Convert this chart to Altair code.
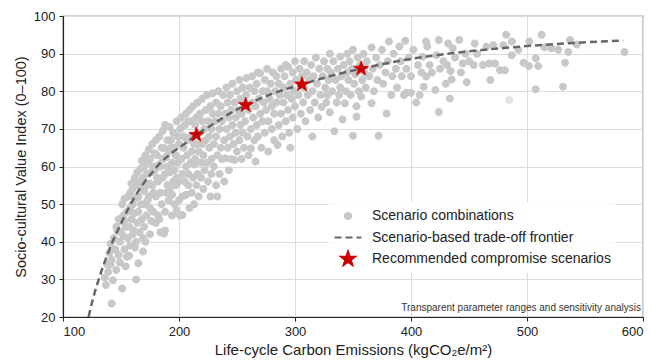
import math
import altair as alt
import pandas as pd

FONT = "Liberation Sans"

SERIES = ["Scenario combinations",
          "Scenario-based trade-off frontier",
          "Recommended compromise scenarios"]

# ---- scenario combinations (emissions, socio-cultural index), read by band ----
band_a = [(136,30.5),(137,28.5),(138,34),(139,32),(140,37),(141,34),(142,23.6),(142,35.2),(143,29.8),(141,39.5),
          (144,41),(145,38),(146,32.5),(147,43),(148,36.5),(148,46),(149,40),(149,34.5),(150,45.5),(151,27.6),(150,42.5),(146,44),
          (151,50),(152,41.5),(152,47),(153,38),(153,51.5),(154,44),(155,48),(155,36),(156,52),(156,41),(154,33.5),(153,45.5)]
band_b = [(157,36.3),(157,44),(158,39),(158,49),(158,53),(159,46),(159,55.5),(160,42),(160,50),(161,43),(161,47.5),(162,51.5),(162,57),(162,38.5),(160,54),
          (163,30),(163,40),(163,55),(164,45),(164,58.5),(165,34.3),(165,48),(165,52),(166,42.5),(166,56),(167,50),(167,59.5),(168,46),(168,54),(168,61.5),
          (169,37.4),(169,41),(169,57),(170,44),(170,50),(170,53.5),(170,60),(171,63),(172,47),(172,55),(172,58),(173,61),(173,51),(174,52),(174,64.5),(171,40)]
band_c = [(175,42),(175,49),(175,55.5),(175,62),(176,58.5),(176,45.5),(177,55),(177,66),(178,48),(178,60),(179,59),(179,63.5),(180,52),(180,45),(180,67),(178,53),
          (181,63),(181,57),(182,56),(182,47),(183,46),(183,60.5),(183,68),(184,60),(184,53),(185,50),(185,65),(186,62),(186,57),(186,69.5),(184,42.5),
          (187,42.2),(187,65),(188,43),(188,48),(188,58),(188,71),(189,53),(189,62.5),(190,55),(190,60),(190,67),(191,51),(191,64),(192,54),(192,70.5),(192,58.5),
          (193,65),(193,67),(194,47),(194,61),(195,56),(195,69),(196,59),(196,65),(196,50),(197,55),(197,63),(198,48.4),(198,57),(198,72),(199,61),(199,68),(194,52.5)]
band_d = [(200,51),(200,56),(200,66),(201,47),(201,70),(202,62),(202,73),(203,52),(203,58),(203,47.1),(204,65),(204,68),(205,56),(205,71),(206,60),(206,74),(206,52.5),
          (207,63),(207,67),(208,55),(208,58),(208,72),(209,49),(209,75),(210,61),(210,68),(211,53),(211,64),(211,72),(212,57),(212,76),(213,50),(213,66),(213,60.5),
          (214,62),(214,71),(215,55),(215,73),(216,58),(216,66),(216,77),(217,52),(217,64),(218,69),(218,74),(219,61),(219,57),(220,66),(220,72),(220,78),
          (221,54),(221,63),(222,59),(222,70),(223,75),(223,67),(224,61),(224,79),(225,56),(225,72),(226,65),(226,68),(227,52),(227,76),(228,62),(228,70),(228,58),(229,74),(229,79.5)]
band_e = [(230,66),(230,60),(231,72),(232,55),(232,68),(232,77),(233,52),(233,63),(234,74),(234,80),(235,58),(235,70),(236,65),(236,76),
          (237,62),(237,72),(238,79),(239,67),(239,56),(240,62.2),(240,74),(241,70),(241,81),(242,65),(242,77),(243,59),(243,73),(244,68),(244,79),(245,62),(245,75),
          (246,71),(246,82),(247,66),(248,61.7),(248,77),(249,73),(249,69),(250,64),(250,80),(251,75),(252,67),(252,83),(253,71),(253,78),(254,62),(254,74),(255,81),(255,69),
          (256,65),(256,77),(257,72),(258,79),(258,83.5),(259,68)]
band_f = [(260,75),(260,63),(261,81),(262,70),(262,64.8),(263,77),(263,84),(264,73),(265,67),(265,80),(266,61.3),
          (266,76),(267,82),(267,71),(268,85),(268,68),(269,78),(270,74),(270,84.8),(271,65),(272,80),(272,72),(273,77),(274,83),(274,69),(275,75),(276,86),(276,80),
          (277,64),(277,72),(278,78),(279,82),(280,70),(280,76),(281,85),(282,74),(282,67),(283,80),(284,84),(284,77),(285,65.7),(286,71),(286,82),(287,79),(288,86),(288,74),
          (289,68),(290,81),(290,77),(291,84),(292,72),(293,79),(294,86.5),(294,75),(295,69),(296,82),(297,78),(298,85),(298,73),(299,80),(300,88),(300,76),(296,65),(292,87)]
band_g = [(301,83),(302,70),(303,79),(304,86),(305,74),(306,84),(307,77),(308,81),(308,88),(309,72),(310,85),(311,79),(312,83),(313,75),(314,87),(315,80),(315,68),
          (316,84),(317,77),(318,89),(319,82),(320,73),(321,86),(322,79),(323,75.8),(324,84),(325,88),(326,81),(327,77),(328,86),(329,83),(330,74.4),(330,90),(328,79),
          (331,85),(332,80),(333,88),(334,69.4),(335,83),(336,77),(337,86),(339,89.2),(339,81),(340,84),(341,72.5),(342,87),(343,76.8),(344,80),(345,90),(345,85),(338,79),
          (346,83),(347,88),(348,79),(349,86),(350,68.2),(350,91),(351,82),(352,84.5),(353,73.2),(354,89),(355,80),(356,87),(357,78.6),(358,83),(359,90),(360,85),(353,76)]
band_h = [(361,81),(362,88),(364,84),(366,76.8),(366,91.6),(367,86),(368,80),(370,89),(371,83),(372,68.2),(373,87),(375,91),(376,82),(378,85),(379,74.1),(383,79),(380,88),(381,93.2),
          (384,84),(385,90),(387,86),(388,81),(390,91.9),(391,88),(392,84),(394,79),(395,93.4),(396,86),(396,79.6),(398,89),(400,79.6),(400,84),(402,91),
          (404.5,77),(407.5,79),(406,87),(409,85),(410,89.2),(411,81.2),(413,93.2),(413,83.9),(414,91.9),(416,87),(418,85),(421,80.3),(422,89.6),(424,74.5),(424,93.6),(425,86),
          (428,88),(430,82),(431,87),(432,92.7),(433.5,78.1),(434,85.4),(435,83.1),(436,91.4),(438,89),(441.6,93.6),(443,85),(444.6,87.4),(447,90),(448,82.4),(450,88)]
band_i = [(455,92.7),(454,87),(457,90),(462,87),(465,91.8),(467.5,87.4),(468.4,83),(471,92.2),(472.4,87.4),(476.7,85.6),(479.6,92.2),(481,85.6),(482,95),
          (486.8,89.6),(487,93.2),(492.5,91),(497,87.6),(501.6,86.7),(502,93.2),(507.5,80.5),(507.5,88.8),(509.6,86.7),(512.6,95),(515,91.7),(521,91.4),
          (527,91),(531,81.2),(532.8,87.6),(535.6,90.4),(537,93.6),(543,92.4),(584,90.4)]
faint_points = [(484.5, 77.7)]

# ---- trade-off frontier ----
frontier_emissions = [122, 126, 131, 137, 143, 149, 156, 162, 168, 175, 181, 195, 208, 215, 230, 244, 257.5, 280, 306, 330, 357, 400, 450, 500, 550, 583]
frontier_index = [20, 25, 30.2, 35.5, 40.2, 44.2, 48.6, 52.0, 54.9, 57.7, 60.0, 63.9, 66.7, 68.4, 71.4, 74.1, 76.3, 79.3, 81.8, 84.0, 86.0, 88.6, 90.6, 92.0, 93.0, 93.5]

# ---- recommended compromise scenarios ----
star_emissions = [215, 257.5, 306, 357]
star_index = [68.4, 76.3, 81.8, 86.0]

x_ticks = [100, 200, 300, 400, 500, 600]
y_ticks = [20, 30, 40, 50, 60, 70, 80, 90, 100]

NOTE = "Transparent parameter ranges and sensitivity analysis"

# ---- frames ----
bands = [band_a, band_b, band_c, band_d, band_e, band_f, band_g, band_h, band_i]
pts = pd.DataFrame([p for b in bands for p in b], columns=["emis", "svi"])
pts["series"] = SERIES[0]
faint = pd.DataFrame(faint_points, columns=["emis", "svi"])
front = pd.DataFrame({"emis": frontier_emissions, "svi": frontier_index, "series": SERIES[1]})
stars = pd.DataFrame({"emis": star_emissions, "svi": star_index, "series": SERIES[2]})

# ---- symbol shapes (unit box -1..1) ----
def circle_path(r):
    return f"M{r},0A{r},{r} 0 1,1 {-r},0A{r},{r} 0 1,1 {r},0Z"

def star_path(R, ratio=0.4):
    pts_ = []
    for k in range(10):
        rad = R if k % 2 == 0 else R * ratio
        a = -math.pi / 2 + k * math.pi / 5
        pts_.append(f"{rad*math.cos(a):.4f},{rad*math.sin(a):.4f}")
    return "M" + "L".join(pts_) + "Z"

CIRCLE = circle_path(0.22)
STAR = star_path(0.52)

fill_scale = alt.Scale(domain=SERIES, range=["#c8c8c8", "#666666", "#cc0000"])
stroke_scale = alt.Scale(domain=SERIES, range=["#c8c8c8", "#666666", "#cc0000"])
shape_scale = alt.Scale(domain=SERIES, range=[CIRCLE, "stroke", STAR])
dash_scale = alt.Scale(domain=SERIES, range=[[1, 0], [7, 4], [1, 0]])

legend = alt.Legend(title=None, orient="none", legendX=266, legendY=186, padding=4,
                    clipHeight=20, rowPadding=1.5, labelFontSize=14, labelFont=FONT,
                    labelColor="#222222", labelOffset=9, labelLimit=400, symbolSize=729,
                    symbolStrokeWidth=2.2, fillColor="rgba(255,255,255,0.88)")

X = alt.X("emis:Q", scale=alt.Scale(domain=[100, 600], nice=False),
          axis=alt.Axis(values=x_ticks, title="Life-cycle Carbon Emissions (kgCO₂e/m²)", format="d",
                        titleFontSize=15))
Y = alt.Y("svi:Q", scale=alt.Scale(domain=[20, 100], nice=False),
          axis=alt.Axis(values=y_ticks, title="Socio-cultural Value Index (0–100)", format="d",
                        titleFontSize=14.5))

points = alt.Chart(pts).mark_point(filled=True, opacity=1, strokeWidth=0, size=1322).encode(
    x=X, y=Y,
    fill=alt.Fill("series:N", scale=fill_scale, legend=legend),
    stroke=alt.Stroke("series:N", scale=stroke_scale, legend=legend),
    shape=alt.Shape("series:N", scale=shape_scale, legend=legend),
)

faint_layer = alt.Chart(faint).mark_circle(color="#e3e3e3", opacity=1, size=64).encode(x=X, y=Y)

line = alt.Chart(front).mark_line(strokeWidth=2.5, interpolate="monotone").encode(
    x=X, y=Y,
    stroke=alt.Stroke("series:N", scale=stroke_scale, legend=legend),
    strokeDash=alt.StrokeDash("series:N", scale=dash_scale, legend=legend),
)

star_layer = alt.Chart(stars).mark_point(filled=True, opacity=1, strokeWidth=0.8, size=900).encode(
    x=X, y=Y,
    fill=alt.Fill("series:N", scale=fill_scale, legend=legend),
    stroke=alt.Stroke("series:N", scale=stroke_scale, legend=legend),
    shape=alt.Shape("series:N", scale=shape_scale, legend=legend),
)

note = alt.Chart(pd.DataFrame({"note": [NOTE]})).mark_text(
    align="right", baseline="alphabetic", fontSize=10, font=FONT, color="#333333"
).encode(x=alt.value(578), y=alt.value(295), text="note:N")

chart = alt.layer(points, faint_layer, line, star_layer, note).properties(
    width=580, height=301,
    padding={"left": 55, "top": 8, "right": 21, "bottom": 46},
    autosize=alt.AutoSizeParams(type="none"),
).configure_axis(
    labelFont=FONT, titleFont=FONT, labelFontSize=13, titleFontSize=14,
    labelColor="#222222", titleColor="#222222", titleFontWeight="normal",
    domainColor="#222222", domainWidth=1.2, tickColor="#222222", tickSize=4,
    labelPadding=4, gridColor="#dcdcdc", gridWidth=1,
).configure_axisY(titlePadding=5).configure_axisX(titlePadding=4).configure_view(
    stroke="#555555", strokeWidth=1.2
)

chart.save("out.html", embed_options={"renderer": "svg", "actions": False})
